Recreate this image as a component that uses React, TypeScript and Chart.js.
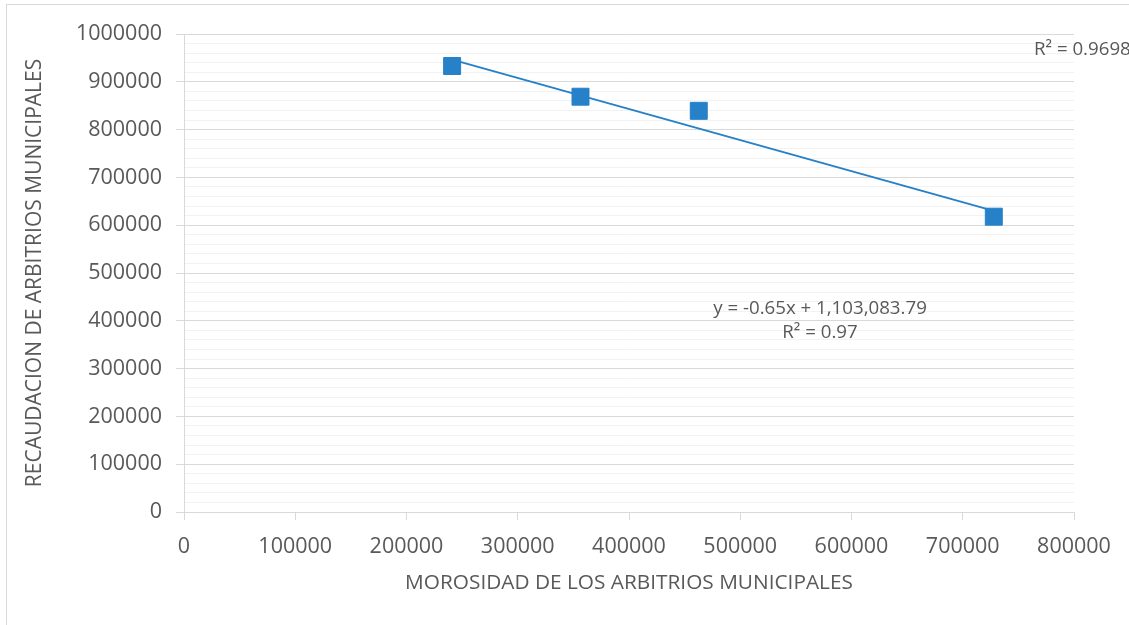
import React, { useEffect, useRef } from "react";
import { Chart, registerables } from "chart.js";

Chart.register(...registerables);

// Data
const morosidad = [241000, 356400, 462700, 727900];
const recaudacion = [933000, 868800, 839300, 617800];
const trendSlope = -0.65;
const trendIntercept = 1103083.79;
const xTicks = [0, 100000, 200000, 300000, 400000, 500000, 600000, 700000, 800000];
const yTicks = [0, 100000, 200000, 300000, 400000, 500000, 600000, 700000, 800000, 900000, 1000000];
const equationLabel = "y = -0.65x + 1,103,083.79";
const r2Label = "R² = 0.97";
const r2LabelRaw = "R² = 0.9698";
const xTitle = "MOROSIDAD DE LOS ARBITRIOS MUNICIPALES";
const yTitle = "RECAUDACION DE ARBITRIOS MUNICIPALES";

const TEXT = "#595959";
const BLUE = "#2681c8";
const FONT = "'Open Sans', sans-serif";

export default function App() {
  const ref = useRef<HTMLCanvasElement | null>(null);
  useEffect(() => {
    if (!ref.current) return;
    const firstX = morosidad[0];
    const lastX = morosidad[morosidad.length - 1];
    const trend = [
      { x: firstX, y: trendSlope * firstX + trendIntercept },
      { x: lastX, y: trendSlope * lastX + trendIntercept },
    ];
    const labels = {
      id: "labels",
      afterDraw(chart: any) {
        const ctx = chart.ctx;
        const a = chart.chartArea;
        ctx.save();
        ctx.fillStyle = TEXT;
        ctx.font = `18.7px ${FONT}`;
        ctx.textBaseline = "middle";
        ctx.textAlign = "center";
        ctx.fillText(equationLabel, a.left + 636, 309);
        ctx.fillText(r2Label, a.left + 636, 333);
        ctx.textAlign = "left";
        ctx.fillText(r2LabelRaw, a.right - 40, 50);
        ctx.restore();
      },
    };
    const chart = new Chart(ref.current, {
      type: "scatter",
      data: {
        datasets: [
          {
            type: "scatter",
            data: morosidad.map((x, i) => ({ x, y: recaudacion[i] })),
            backgroundColor: BLUE,
            borderColor: BLUE,
            borderWidth: 1,
            pointStyle: "rect",
            pointRadius: 12,
            order: 0,
          },
          {
            type: "line",
            data: trend,
            borderColor: BLUE,
            borderWidth: 2,
            pointRadius: 0,
            fill: false,
            order: 1,
          } as any,
        ],
      },
      options: {
        animation: false,
        responsive: true,
        maintainAspectRatio: false,
        layout: { padding: { left: 0, top: 34, right: 55, bottom: 0 } },
        plugins: { legend: { display: false }, tooltip: { enabled: false } },
        scales: {
          x: {
            type: "linear",
            min: 0,
            max: 800000,
            afterBuildTicks: (s: any) => {
              s.ticks = xTicks.map((v) => ({ value: v }));
            },
            afterFit: (s: any) => {
              s.height = 113;
            },
            ticks: {
              color: TEXT,
              font: { family: FONT, size: 21.5 },
              padding: 14,
              maxRotation: 0,
              autoSkip: false,
              callback: (v: any) => String(v),
            },
            grid: { drawOnChartArea: false, color: "#d9d9d9", tickLength: 8 },
            border: { color: "#d9d9d9", width: 1 },
            title: {
              display: true,
              text: xTitle,
              color: TEXT,
              font: { family: FONT, size: 20.8 },
              padding: { top: 0, bottom: 29 },
            },
          },
          y: {
            type: "linear",
            min: 0,
            max: 1000000,
            afterBuildTicks: (s: any) => {
              const t: any[] = [];
              for (let i = 0; i < yTicks.length - 1; i++) {
                const a = yTicks[i];
                const b = yTicks[i + 1];
                for (let k = 0; k < 5; k++) t.push({ value: a + ((b - a) * k) / 5 });
              }
              t.push({ value: yTicks[yTicks.length - 1] });
              s.ticks = t;
            },
            afterFit: (s: any) => {
              s.width = 184;
            },
            ticks: {
              color: TEXT,
              font: { family: FONT, size: 21.5 },
              padding: 14,
              autoSkip: false,
              callback: (v: any) => (yTicks.includes(v) ? String(v) : ""),
            },
            grid: {
              color: (c: any) => (yTicks.includes(c.tick?.value) ? "#d9d9d9" : "#f2f2f2"),
              tickColor: (c: any) => (yTicks.includes(c.tick?.value) ? "#d9d9d9" : "rgba(0,0,0,0)"),
              tickLength: 8,
              lineWidth: 1,
            },
            border: { color: "#d9d9d9", width: 1 },
            title: {
              display: true,
              text: yTitle,
              color: TEXT,
              font: { family: FONT, size: 21 },
              padding: { top: 22, bottom: 0 },
            },
          },
        },
      },
      plugins: [labels],
    });
    return () => chart.destroy();
  }, []);
  return (
    <div style={{ position: "fixed", left: 0, top: 0, width: 1129, height: 625, overflow: "hidden", background: "#fff" }}>
      <div
        style={{
          position: "absolute",
          left: 6,
          top: 4,
          width: 1200,
          height: 700,
          border: "1px solid #d9d9d9",
          boxSizing: "border-box",
        }}
      />
      <div style={{ position: "absolute", left: 0, top: 0, width: 1129, height: 625 }}>
        <canvas ref={ref} />
      </div>
    </div>
  );
}
